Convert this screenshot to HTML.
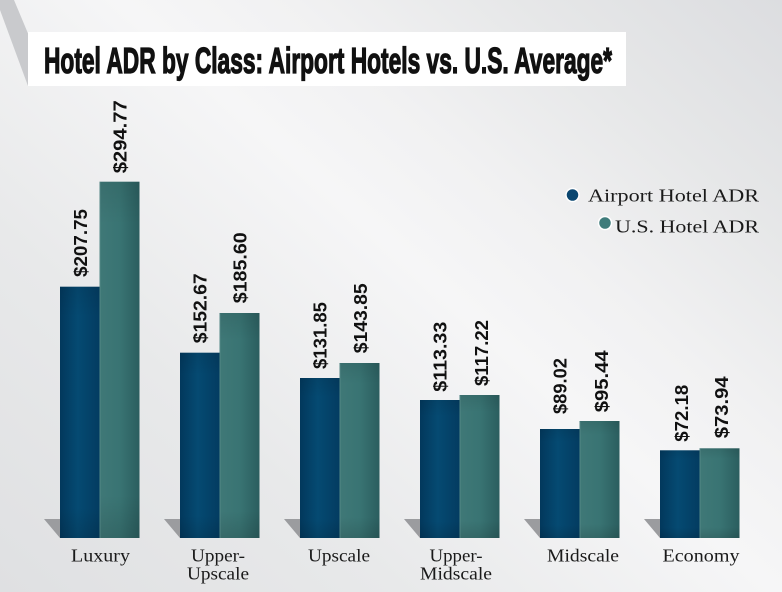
<!DOCTYPE html>
<html><head><meta charset="utf-8"><style>
html,body{margin:0;padding:0;}
body{width:782px;height:592px;overflow:hidden;background:linear-gradient(42deg,#dfe0e2 0%,#e8e9ea 28%,#f6f6f7 54%,#f1f1f2 66%,#e6e7e8 82%,#dcdde0 100%);}
svg{display:block;}
</style></head><body>
<svg width="782" height="592" viewBox="0 0 782 592" xmlns="http://www.w3.org/2000/svg">
<defs>
<linearGradient id="ga" x1="0" y1="0" x2="1" y2="0">
<stop offset="0" stop-color="#02385c"/><stop offset="0.45" stop-color="#054a72"/><stop offset="1" stop-color="#033c61"/>
</linearGradient>
<linearGradient id="gu" x1="0" y1="0" x2="1" y2="0">
<stop offset="0" stop-color="#3f7877"/><stop offset="0.5" stop-color="#397473"/><stop offset="1" stop-color="#2b5e5f"/>
</linearGradient>
<linearGradient id="gv" x1="0" y1="0" x2="0" y2="1">
<stop offset="0" stop-color="#000" stop-opacity="0.08"/><stop offset="0.12" stop-color="#000" stop-opacity="0"/><stop offset="0.88" stop-color="#000" stop-opacity="0"/><stop offset="1" stop-color="#000" stop-opacity="0.12"/>
</linearGradient>
</defs>

<polygon points="0,0 14,0 50,86 28,86 0,10" fill="#c9cacd"/>
<rect x="28" y="32" width="598" height="54" fill="#ffffff"/>
<text x="44" y="73" font-family="Liberation Sans, Arial, sans-serif" font-weight="bold" font-size="36" fill="#111" stroke="#111" stroke-width="1.3" textLength="568" lengthAdjust="spacingAndGlyphs">Hotel ADR by Class: Airport Hotels vs. U.S. Average*</text>

<g fill="#9b9c9f">
<polygon points="44,519 60,519 60,538"/>
<polygon points="164,519 180,519 180,538"/>
<polygon points="284,519 300,519 300,538"/>
<polygon points="404,519 420,519 420,538"/>
<polygon points="524,519 540,519 540,538"/>
<polygon points="644,519 660,519 660,538"/>
</g>

<g>
<rect x="60" y="286.7" width="39.5" height="251.3" fill="url(#ga)"/>
<rect x="99.5" y="181.7" width="40" height="356.3" fill="url(#gu)"/>
<rect x="180" y="352.7" width="39.5" height="185.3" fill="url(#ga)"/>
<rect x="219.5" y="313" width="40" height="225" fill="url(#gu)"/>
<rect x="300" y="378" width="39.5" height="160" fill="url(#ga)"/>
<rect x="339.5" y="363" width="40" height="175" fill="url(#gu)"/>
<rect x="420" y="400" width="39.5" height="138" fill="url(#ga)"/>
<rect x="459.5" y="395" width="40" height="143" fill="url(#gu)"/>
<rect x="540" y="429" width="39.5" height="109" fill="url(#ga)"/>
<rect x="579.5" y="421" width="40" height="117" fill="url(#gu)"/>
<rect x="660" y="450.3" width="39.5" height="87.7" fill="url(#ga)"/>
<rect x="699.5" y="448.3" width="40" height="89.7" fill="url(#gu)"/>
</g>
<g fill="url(#gv)">
<rect x="60" y="286.7" width="39.5" height="251.3"/>
<rect x="99.5" y="181.7" width="40" height="356.3"/>
<rect x="180" y="352.7" width="39.5" height="185.3"/>
<rect x="219.5" y="313" width="40" height="225"/>
<rect x="300" y="378" width="39.5" height="160"/>
<rect x="339.5" y="363" width="40" height="175"/>
<rect x="420" y="400" width="39.5" height="138"/>
<rect x="459.5" y="395" width="40" height="143"/>
<rect x="540" y="429" width="39.5" height="109"/>
<rect x="579.5" y="421" width="40" height="117"/>
<rect x="660" y="450.3" width="39.5" height="87.7"/>
<rect x="699.5" y="448.3" width="40" height="89.7"/>
</g>
<g stroke="#5c8e8d" stroke-width="1" opacity="0.7">
<line x1="100" y1="182" x2="100" y2="538"/>
<line x1="220" y1="313.5" x2="220" y2="538"/>
<line x1="340" y1="363.5" x2="340" y2="538"/>
<line x1="460" y1="395.5" x2="460" y2="538"/>
<line x1="580" y1="421.5" x2="580" y2="538"/>
<line x1="700" y1="448.8" x2="700" y2="538"/>
</g>

<g font-family="Liberation Sans, Arial, sans-serif" font-weight="bold" font-size="18" fill="#111">
<text transform="translate(87,277) rotate(-90)" textLength="68" lengthAdjust="spacingAndGlyphs">$207.75</text>
<text transform="translate(126.5,173.3) rotate(-90)" textLength="73" lengthAdjust="spacingAndGlyphs">$294.77</text>
<text transform="translate(206.7,343.3) rotate(-90)" textLength="70" lengthAdjust="spacingAndGlyphs">$152.67</text>
<text transform="translate(246.5,303.3) rotate(-90)" textLength="71" lengthAdjust="spacingAndGlyphs">$185.60</text>
<text transform="translate(326.7,369) rotate(-90)" textLength="67" lengthAdjust="spacingAndGlyphs">$131.85</text>
<text transform="translate(367,353.3) rotate(-90)" textLength="70" lengthAdjust="spacingAndGlyphs">$143.85</text>
<text transform="translate(446.7,391.7) rotate(-90)" textLength="70" lengthAdjust="spacingAndGlyphs">$113.33</text>
<text transform="translate(488,386) rotate(-90)" textLength="66" lengthAdjust="spacingAndGlyphs">$117.22</text>
<text transform="translate(566.7,414) rotate(-90)" textLength="56" lengthAdjust="spacingAndGlyphs">$89.02</text>
<text transform="translate(608,412.3) rotate(-90)" textLength="62" lengthAdjust="spacingAndGlyphs">$95.44</text>
<text transform="translate(688,441.7) rotate(-90)" textLength="57" lengthAdjust="spacingAndGlyphs">$72.18</text>
<text transform="translate(728,438.3) rotate(-90)" textLength="62" lengthAdjust="spacingAndGlyphs">$73.94</text>
</g>

<g font-family="Liberation Serif, DejaVu Serif, serif" font-size="18" fill="#1a1a1a" text-anchor="middle">
<text x="100.5" y="561.5" textLength="59" lengthAdjust="spacingAndGlyphs">Luxury</text>
<text x="218" y="561.5" textLength="54" lengthAdjust="spacingAndGlyphs">Upper-</text>
<text x="218" y="579.5" textLength="62" lengthAdjust="spacingAndGlyphs">Upscale</text>
<text x="339" y="561.5" textLength="62" lengthAdjust="spacingAndGlyphs">Upscale</text>
<text x="456" y="561.5" textLength="53" lengthAdjust="spacingAndGlyphs">Upper-</text>
<text x="456" y="579.5" textLength="72" lengthAdjust="spacingAndGlyphs">Midscale</text>
<text x="583" y="561.5" textLength="72" lengthAdjust="spacingAndGlyphs">Midscale</text>
<text x="701" y="561.5" textLength="77" lengthAdjust="spacingAndGlyphs">Economy</text>
</g>

<circle cx="572.5" cy="195" r="6.5" fill="#0a4670" stroke="#ffffff" stroke-width="1.5"/>
<circle cx="605" cy="223" r="6.5" fill="#3f7c7b" stroke="#ffffff" stroke-width="1.5"/>
<g font-family="Liberation Serif, DejaVu Serif, serif" font-size="18" fill="#1a1a1a">
<text x="588" y="201.5" textLength="171" lengthAdjust="spacingAndGlyphs">Airport Hotel ADR</text>
<text x="615" y="232.7" textLength="144" lengthAdjust="spacingAndGlyphs">U.S. Hotel ADR</text>
</g>
</svg>
</body></html>
